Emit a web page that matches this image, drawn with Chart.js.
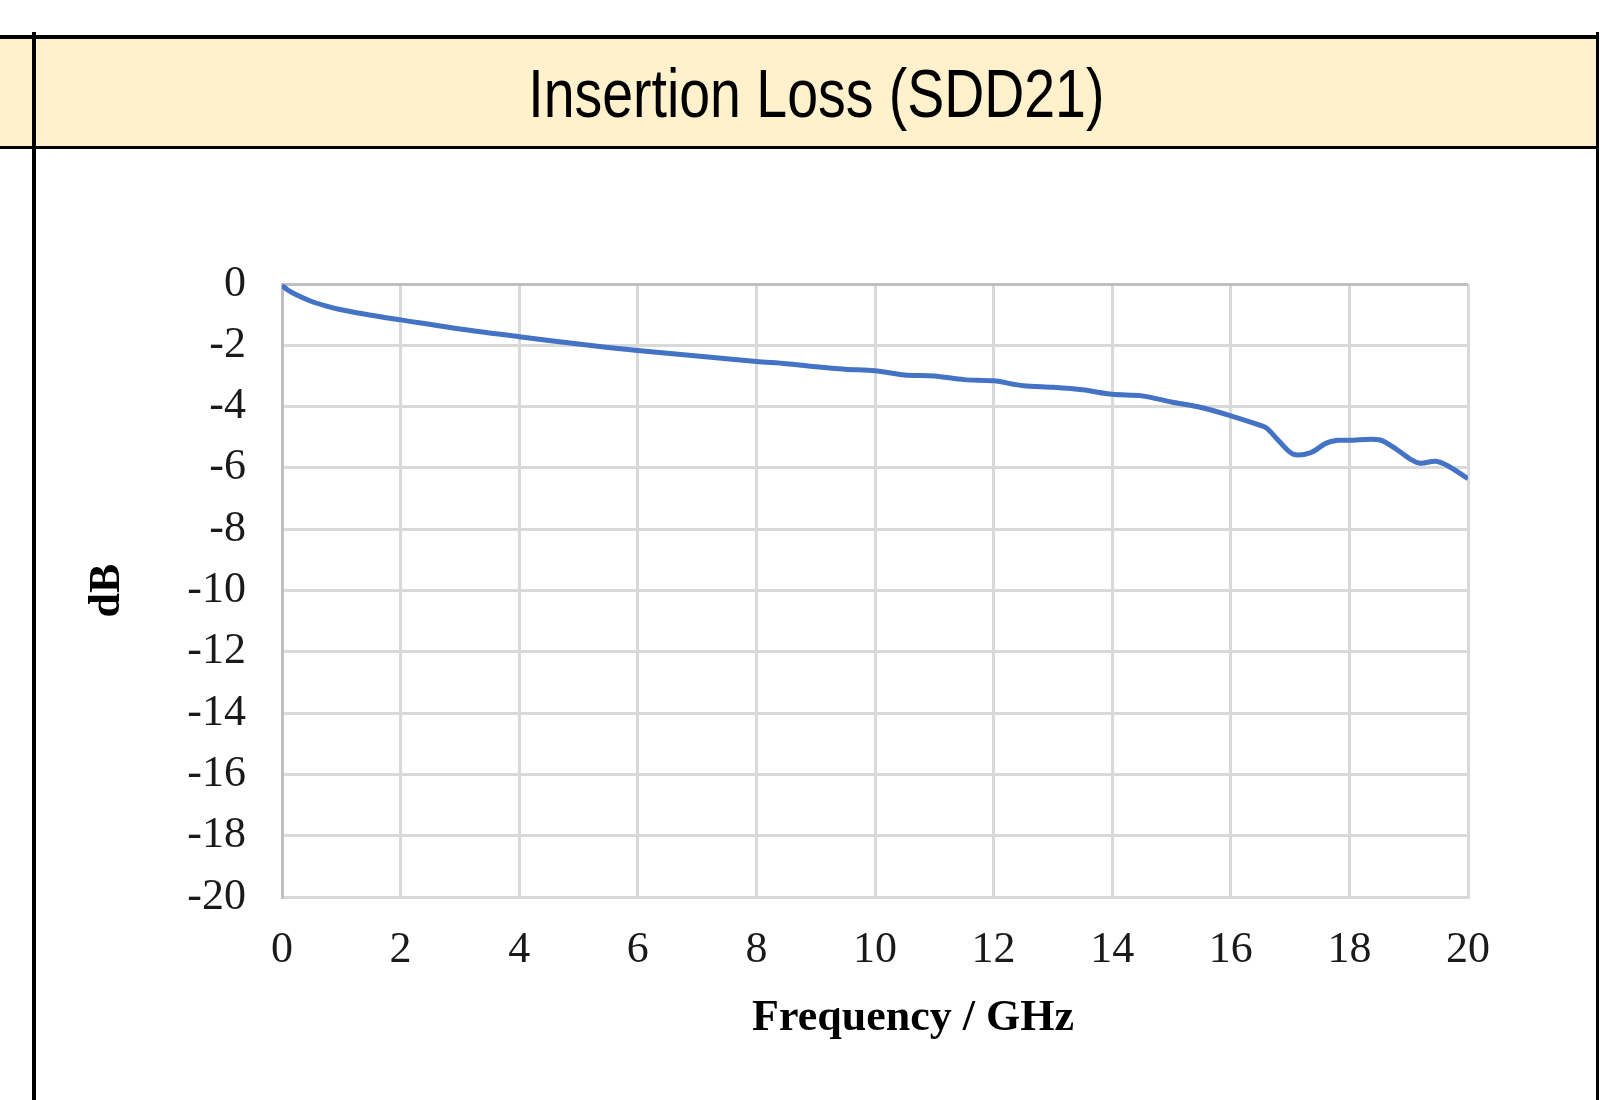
<!DOCTYPE html>
<html lang="en">
<head>
  <meta charset="UTF-8">
  <title>Insertion Loss (SDD21)</title>
  <script src="https://cdn.jsdelivr.net/npm/chart.js"></script>
  <style>
    body { margin: 0; background: #fff; width: 1621px; height: 1100px; overflow: hidden; position: relative; }
    .rule { position: absolute; background: #000; }
    #hdrFill { position: absolute; left: 0; top: 39px; width: 1596px; height: 107px; background: #FFF1CC; }
    #hdrText {
      position: absolute; left: 36px; width: 1560px; top: 59px; text-align: center;
      font-family: "Liberation Sans", Arial, sans-serif; font-size: 68px; line-height: 68px; color: #000;
    }
    #hdrText span { display: inline-block; transform: scaleX(0.815); transform-origin: center; }
    #chartBox { position: absolute; left: 36px; top: 150px; width: 1560px; height: 950px; }
  </style>
</head>
<body>

<div id="hdrFill"></div>
<div class="rule" style="left:0;top:35px;width:1599px;height:4px"></div>
<div class="rule" style="left:0;top:146px;width:1599px;height:3px"></div>
<div class="rule" style="left:32px;top:32px;width:4px;height:1068px"></div>
<div class="rule" style="left:1596px;top:32px;width:3px;height:1068px"></div>
<div id="hdrText"><span>Insertion Loss (SDD21)</span></div>

<div id="chartBox"><canvas id="ilChart"></canvas></div>

<script>
  // values
  const freqGHz = [0, 0.1, 0.25, 0.5, 0.75, 1, 1.5, 2, 3, 4, 5, 6, 7, 8, 8.5, 9, 9.5, 10, 10.5, 11, 11.5, 12,
                   12.5, 13, 13.5, 14, 14.5, 15, 15.5, 16, 16.4, 16.6, 16.8, 17.05, 17.35, 17.6, 17.8, 18,
                   18.5, 18.8, 19.05, 19.2, 19.45, 19.65, 20];
  const sdd21 = [-0.05, -0.2, -0.36, -0.57, -0.72, -0.84, -1.02, -1.17, -1.47, -1.72, -1.96, -2.17, -2.35, -2.53, -2.6, -2.7, -2.78, -2.83, -2.97, -3.0, -3.12, -3.16,
                 -3.32, -3.37, -3.45, -3.6, -3.65, -3.85, -4.03, -4.3, -4.55, -4.7, -5.1, -5.55, -5.5, -5.2, -5.1, -5.1,
                 -5.08, -5.4, -5.74, -5.85, -5.78, -5.92, -6.35];
  const xTitle = 'Frequency / GHz';
  const yTitle = 'dB';

  const tickFont = { family: '"Liberation Serif", "Times New Roman", serif', size: 44 };
  const titleFont = { family: '"Liberation Serif", "Times New Roman", serif', size: 44, weight: 'bold' };

  // Excel centres the x title on the whole chart, not the plot, so draw it ourselves
  const xTitlePlugin = {
    id: 'xTitle',
    afterDraw(chart) {
      const { ctx, chartArea } = chart;
      ctx.save();
      ctx.font = 'bold 44px "Liberation Serif", "Times New Roman", serif';
      ctx.fillStyle = '#000';
      ctx.textAlign = 'center';
      ctx.textBaseline = 'middle';
      ctx.fillText(xTitle, (chartArea.left + chartArea.right) / 2 + 38, chartArea.bottom + 122);
      ctx.restore();
    }
  };

  new Chart(document.getElementById('ilChart'), {
    type: 'line',
    data: {
      datasets: [{
        label: 'SDD21',
        data: freqGHz.map((f, i) => ({ x: f, y: sdd21[i] })),
        borderColor: '#4472C4',
        borderWidth: 5,
        pointRadius: 0,
        tension: 0.3,
        fill: false
      }]
    },
    options: {
      responsive: true,
      maintainAspectRatio: false,
      animation: false,
      layout: { padding: { top: 134, right: 128, bottom: 53, left: 0 } },
      plugins: { legend: { display: false }, tooltip: { enabled: false } },
      scales: {
        x: {
          type: 'linear', min: 0, max: 20,
          afterFit: s => { s.height = 150; },
          ticks: { stepSize: 2, font: tickFont, color: '#1a1a1a', padding: 27, maxRotation: 0 },
          grid: { drawTicks: false, lineWidth: 3, color: c => c.tick && c.tick.value === 0 ? '#bfbfbf' : '#d9d9d9' },
          border: { color: '#d9d9d9', width: 3 }
        },
        y: {
          min: -20, max: 0,
          afterFit: s => { s.width = 246; },
          ticks: { stepSize: 2, font: tickFont, color: '#1a1a1a', padding: 36 },
          grid: { drawTicks: false, lineWidth: 3, color: c => c.tick && c.tick.value === 0 ? '#bfbfbf' : '#d9d9d9' },
          border: { color: '#bfbfbf', width: 3 },
          title: { display: true, text: yTitle, font: titleFont, color: '#000', padding: { top: 45, bottom: 0 } }
        }
      }
    },
    plugins: [xTitlePlugin]
  });
</script>
</body>
</html>
